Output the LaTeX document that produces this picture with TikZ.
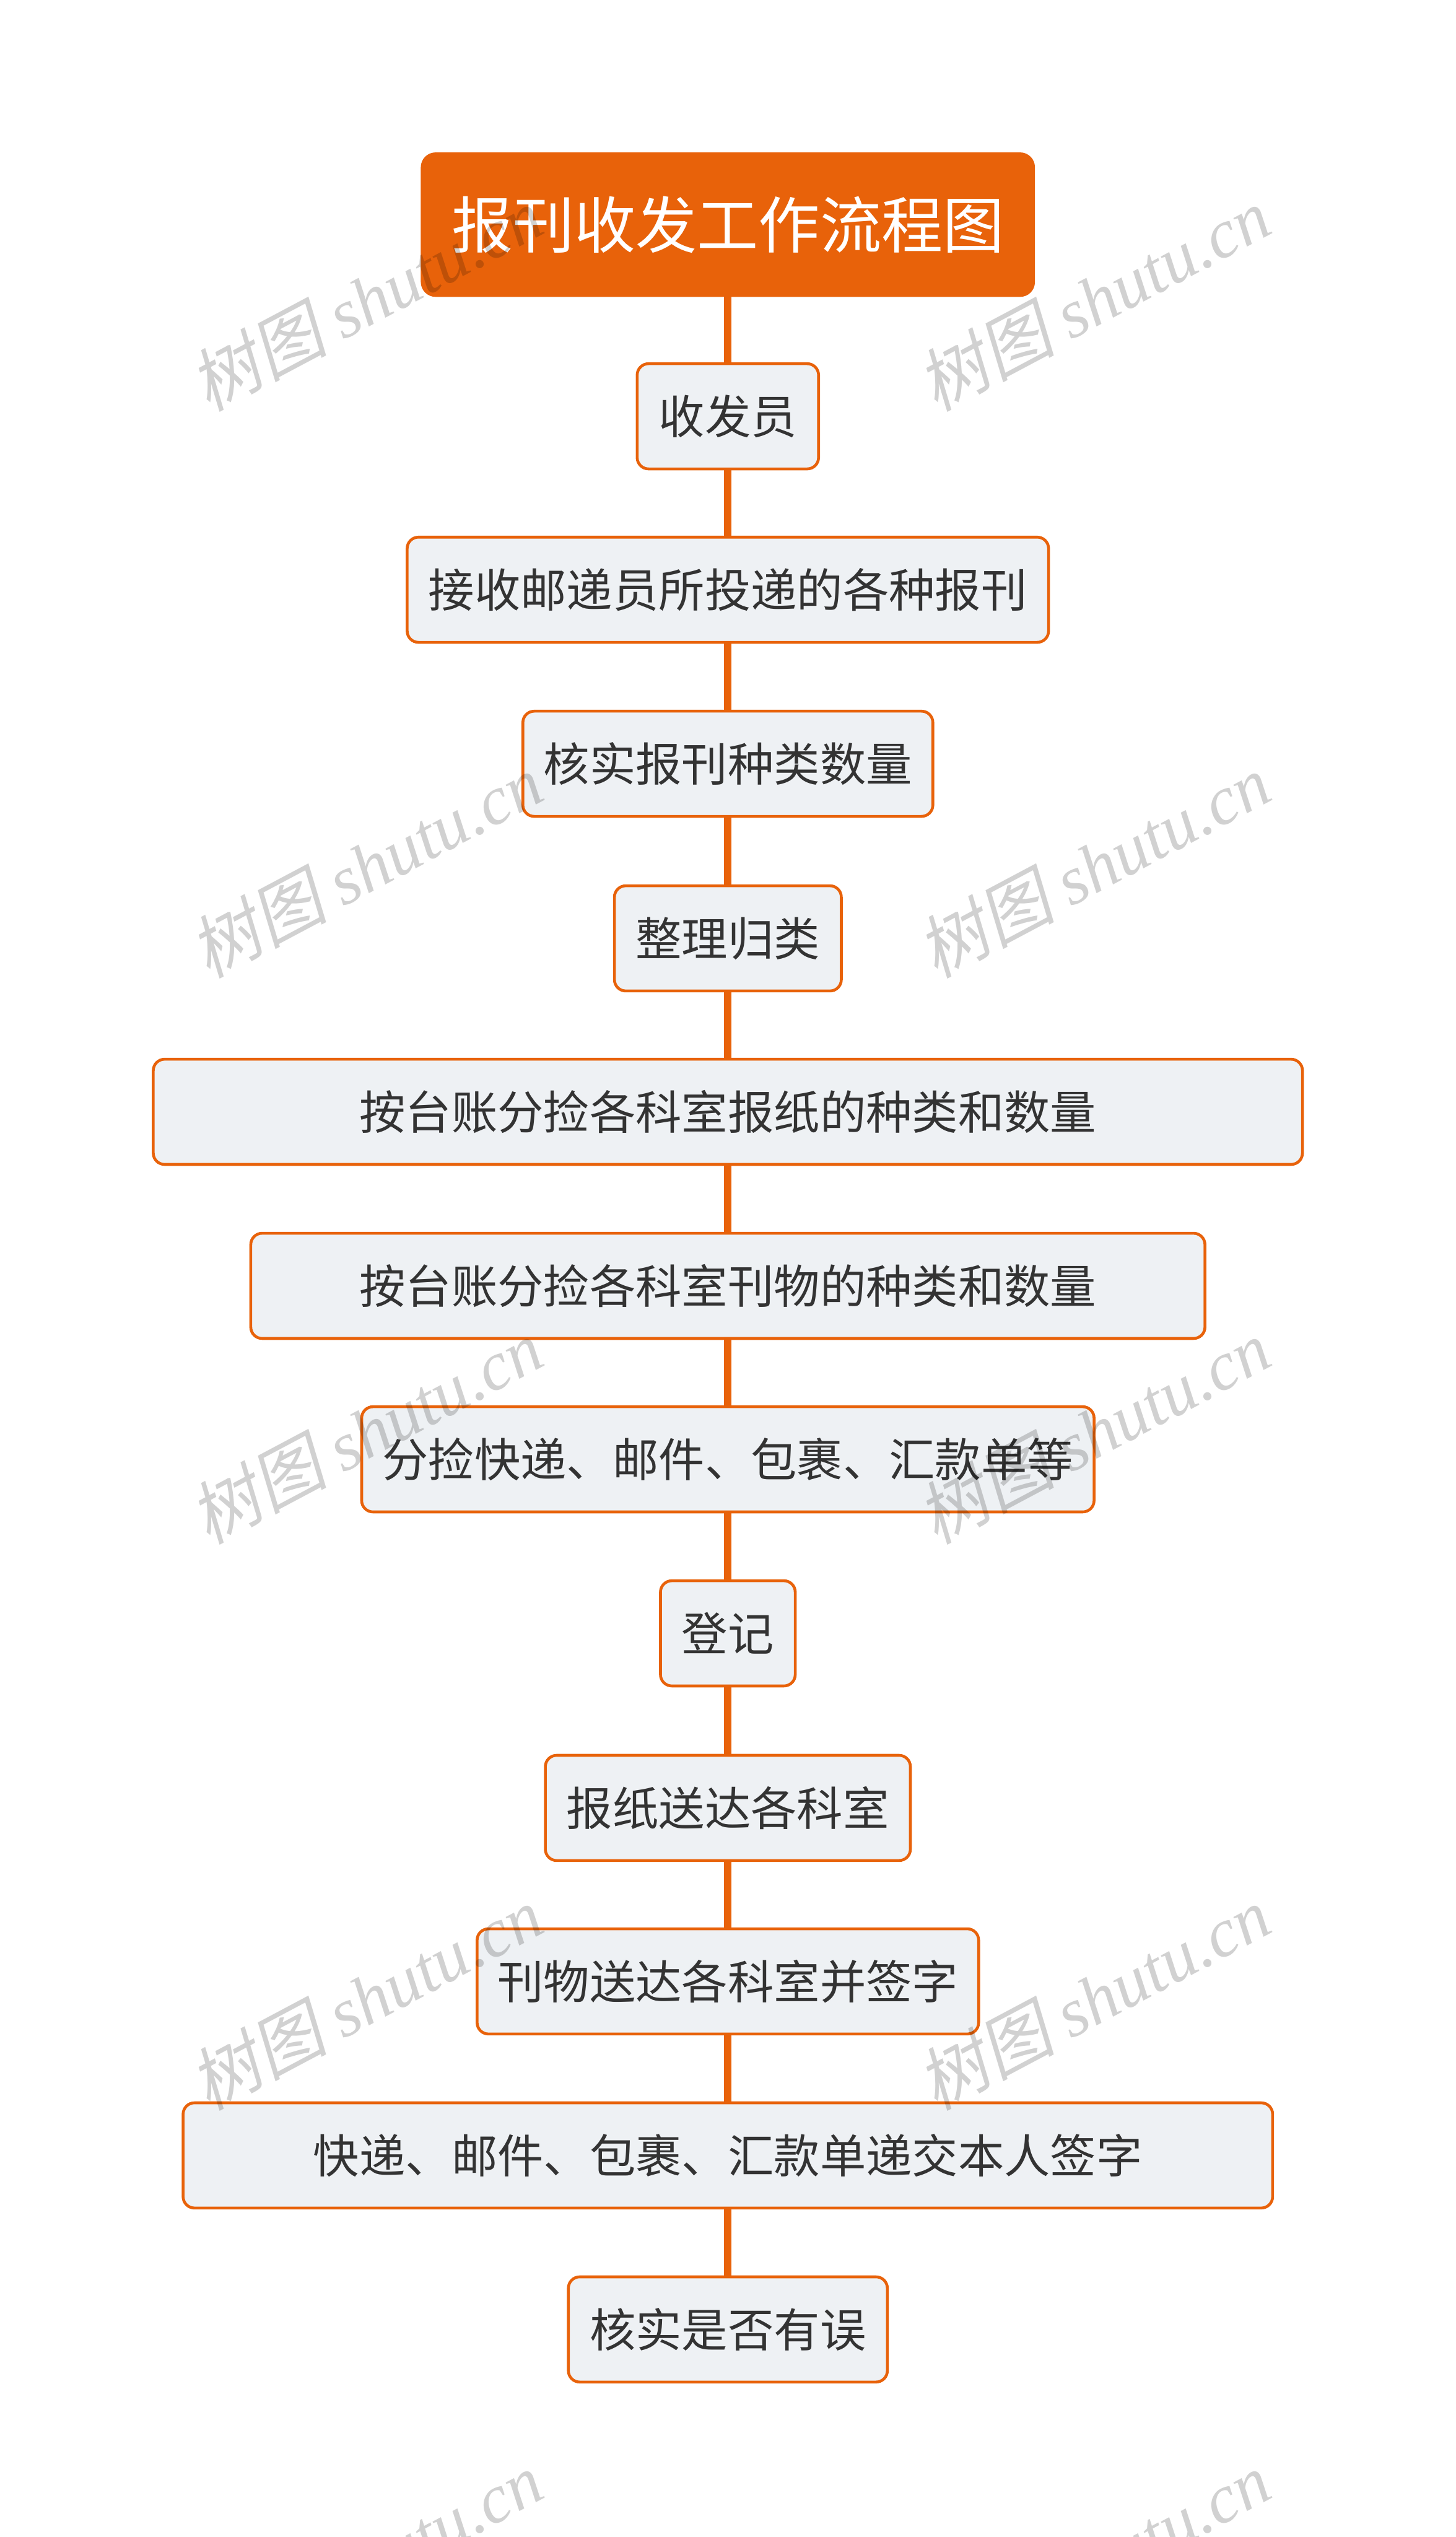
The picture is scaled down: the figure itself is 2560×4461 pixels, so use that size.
\documentclass[tikz,border=0pt]{standalone}
\usepackage{fontspec}
\setmainfont{Noto Sans CJK SC}
\newfontfamily\wmcjk[FakeSlant=0.2]{Noto Sans CJK SC}
\newfontfamily\wmlat{Liberation Serif}
\definecolor{orn}{HTML}{E8620A}
\definecolor{nfill}{HTML}{EEF1F4}
\definecolor{ntext}{HTML}{333333}
\tikzset{
  stepbox/.style={draw=orn, line width=5pt, fill=nfill, rounded corners=20pt,
    minimum height=185pt, text=ntext, font=\fontsize{81}{96}\selectfont,
    inner sep=0pt, anchor=center},
  titlebox/.style={draw=orn, line width=2pt, fill=orn, rounded corners=25pt,
    minimum width=1078pt, minimum height=252pt, text=white,
    font=\fontsize{108}{120}\selectfont, inner sep=0pt},
  link/.style={draw=orn, line width=13pt},
  wm/.style={rotate=28, text=black, opacity=0.18, inner sep=0pt,
    font=\fontsize{121}{130}\selectfont}
}
\begin{document}
\begin{tikzpicture}[x=1pt,y=-1pt]
\useasboundingbox (0,0) rectangle (2560,4461);
\clip (0,0) rectangle (2560,4461);
\fill[white] (0,0) rectangle (2560,4461);
\node[titlebox] (t) at (1280,395) {报刊收发工作流程图};
\node[stepbox, minimum width=319pt] (n1) at (1280,732) {收发员};
\node[stepbox, minimum width=1128pt] (n2) at (1280,1037) {接收邮递员所投递的各种报刊};
\node[stepbox, minimum width=721pt] (n3) at (1280,1343) {核实报刊种类数量};
\node[stepbox, minimum width=399pt] (n4) at (1280,1650) {整理归类};
\node[stepbox, minimum width=2021pt] (n5) at (1280,1955) {按台账分捡各科室报纸的种类和数量};
\node[stepbox, minimum width=1678pt] (n6) at (1280,2261) {按台账分捡各科室刊物的种类和数量};
\node[stepbox, minimum width=1288pt] (n7) at (1280,2566) {分捡快递、邮件、包裹、汇款单等};
\node[stepbox, minimum width=237pt] (n8) at (1280,2872) {登记};
\node[stepbox, minimum width=642pt] (n9) at (1280,3179) {报纸送达各科室};
\node[stepbox, minimum width=882pt] (n10) at (1280,3484) {刊物送达各科室并签字};
\node[stepbox, minimum width=1916pt] (n11) at (1280,3790) {快递、邮件、包裹、汇款单递交本人签字};
\node[stepbox, minimum width=561pt] (n12) at (1280,4096) {核实是否有误};
\foreach \a/\b in {t/n1,n1/n2,n2/n3,n3/n4,n4/n5,n5/n6,n6/n7,n7/n8,n8/n9,n9/n10,n10/n11,n11/n12}
  \draw[link] (\a.south) -- (\b.north);
\foreach \i/\yy in {1/526,2/1522,3/2517,4/3513,5/4508}{
  \node[wm] (wl\i) at (643,\yy) {{\wmcjk 树图} {\wmlat\itshape shutu.cn}};
  \node[wm] (wr\i) at (1923,\yy) {{\wmcjk 树图} {\wmlat\itshape shutu.cn}};
}
\end{tikzpicture}
\end{document}
